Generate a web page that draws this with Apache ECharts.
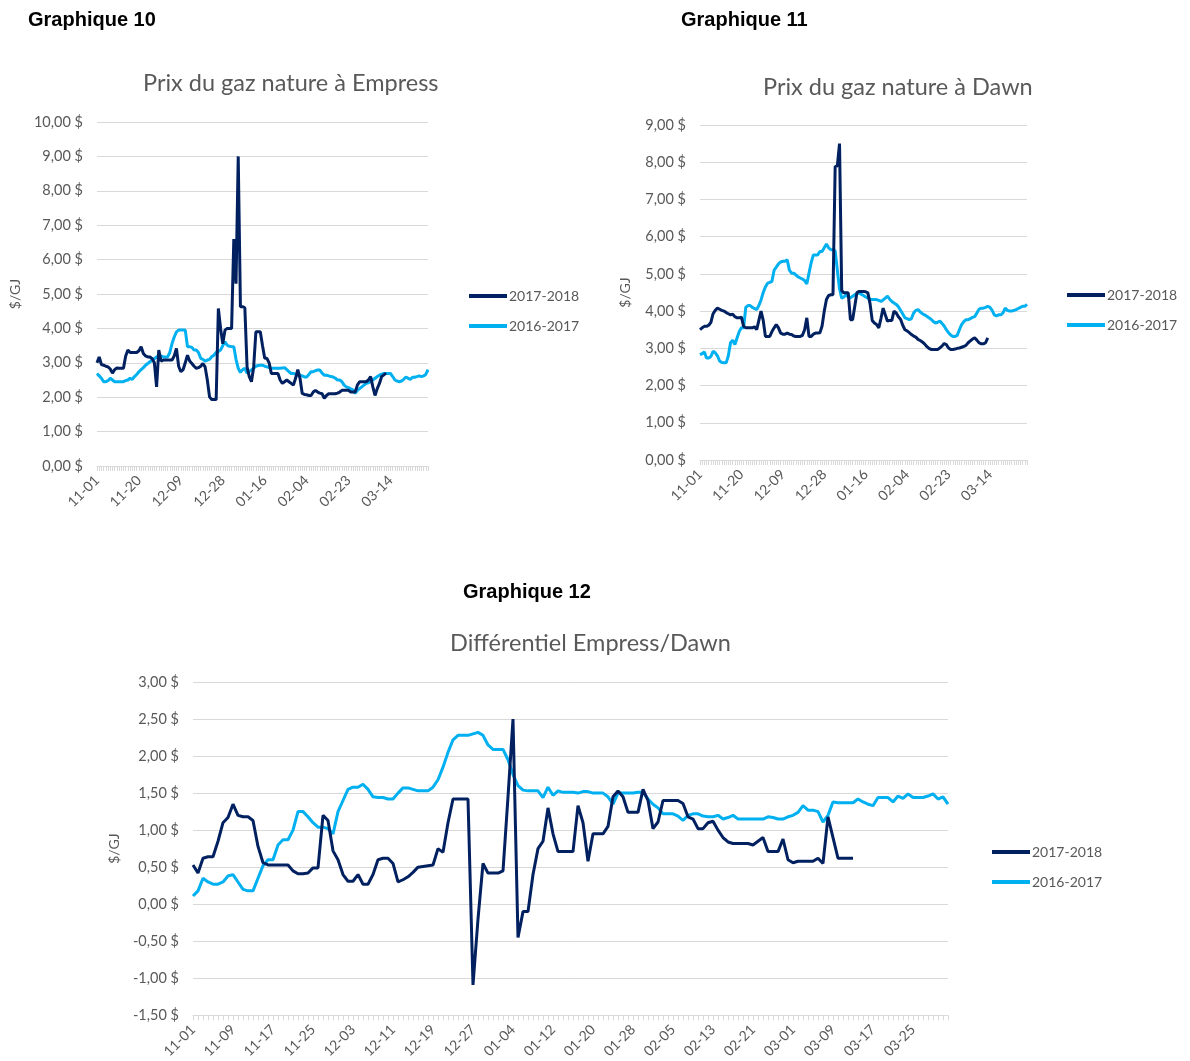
<!DOCTYPE html>
<html>
<head>
<meta charset="utf-8">
<script src="https://cdn.jsdelivr.net/npm/echarts@6/dist/echarts.min.js"></script>
<style>
  html, body { margin: 0; padding: 0; background: #fff; }
  #chart { width: 1190px; height: 1061px; }
</style>
</head>
<body>
<div id="chart"></div>
<script>
// jours affichés sur l'axe des x (MM-JJ), à partir du 1er novembre
function makeDays(n) {
  var out = [];
  var d = new Date(Date.UTC(2017, 10, 1));
  for (var i = 0; i < n; i++) {
    var m = d.getUTCMonth() + 1, j = d.getUTCDate();
    out.push((m < 10 ? '0' : '') + m + '-' + (j < 10 ? '0' : '') + j);
    d.setUTCDate(j + 1);
  }
  return out;
}
var days = makeDays(151);
var days12 = makeDays(152);

var seriesNames = ['2017-2018', '2016-2017'];

// Graphique 10 - Empress ($/GJ)
var empress1718 = [
  3.0, 3.17, 2.95, 2.93, 2.9, 2.88, 2.82, 2.7, 2.8, 2.85,
  2.84, 2.84, 2.84, 3.2, 3.37, 3.3, 3.3, 3.3, 3.3, 3.35,
  3.47, 3.27, 3.2, 3.17, 3.17, 3.12, 3.0, 2.3, 3.37, 3.05,
  3.08, 3.08, 3.08, 3.08, 3.08, 3.2, 3.42, 2.9, 2.74, 2.8,
  3.0, 3.22, 3.05, 2.98, 2.9, 2.84, 2.86, 2.9, 2.98, 2.88,
  2.5, 2.01, 1.93, 1.93, 1.93, 4.58, 4.0, 3.55, 3.95, 4.0,
  4.0, 4.0, 6.6, 5.3, 9.0, 4.63, 4.63, 4.6, 2.88, 2.6,
  2.45, 2.88, 3.9, 3.9, 3.9, 3.5, 3.13, 3.13, 3.0, 2.69,
  2.69, 2.69, 2.69, 2.5, 2.4, 2.45, 2.5, 2.45, 2.4, 2.35,
  2.55, 2.8, 2.55, 2.11, 2.08, 2.07, 2.05, 2.05, 2.15, 2.2,
  2.15, 2.12, 2.1, 1.97, 2.05, 2.1, 2.1, 2.1, 2.1, 2.12,
  2.15, 2.2, 2.2, 2.2, 2.2, 2.15, 2.15, 2.15, 2.35, 2.45,
  2.45, 2.45, 2.45, 2.5, 2.6, 2.3, 2.05, 2.25, 2.4, 2.6,
  2.65, 2.7
];
var empress1617 = [
  2.69, 2.62, 2.55, 2.45, 2.45, 2.48, 2.55, 2.5, 2.45, 2.45,
  2.45, 2.45, 2.45, 2.48, 2.5, 2.55, 2.52, 2.6, 2.66, 2.74,
  2.8, 2.86, 2.93, 2.98, 3.03, 3.08, 3.12, 3.17, 3.2, 3.2,
  3.17, 3.17, 3.17, 3.3, 3.56, 3.75, 3.9, 3.95, 3.95, 3.95,
  3.95, 3.47, 3.47, 3.45, 3.37, 3.37, 3.3, 3.13, 3.1, 3.05,
  3.08, 3.1, 3.18, 3.22, 3.3, 3.33, 3.37, 3.5, 3.61, 3.51,
  3.48, 3.47, 3.47, 3.1, 2.84, 2.72, 2.8, 2.84, 2.7, 2.75,
  2.79, 2.85, 2.9, 2.92, 2.93, 2.93, 2.9, 2.88, 2.86, 2.84,
  2.84, 2.84, 2.84, 2.84, 2.85, 2.86, 2.8, 2.74, 2.69, 2.69,
  2.67, 2.64, 2.64, 2.62, 2.59, 2.59, 2.66, 2.74, 2.74, 2.77,
  2.79, 2.79, 2.7, 2.64, 2.64, 2.62, 2.6, 2.59, 2.55, 2.5,
  2.5, 2.45, 2.35, 2.3, 2.28, 2.24, 2.21, 2.11, 2.2, 2.25,
  2.3, 2.35, 2.4, 2.42, 2.45, 2.5, 2.55, 2.6, 2.64, 2.67,
  2.69, 2.69, 2.69, 2.69, 2.6, 2.5, 2.47, 2.45, 2.47, 2.52,
  2.59, 2.55, 2.52, 2.58, 2.58, 2.6, 2.62, 2.6, 2.62, 2.66,
  2.8
];

// Graphique 11 - Dawn ($/GJ)
var dawn1718 = [
  3.5, 3.55, 3.59, 3.59, 3.62, 3.7, 3.93, 4.02, 4.08, 4.05,
  4.02, 4.0, 3.96, 3.93, 3.9, 3.92, 3.85, 3.82, 3.82, 3.84,
  3.59, 3.55, 3.55, 3.55, 3.55, 3.58, 3.5, 3.75, 4.0, 3.75,
  3.32, 3.32, 3.32, 3.45, 3.55, 3.64, 3.55, 3.41, 3.38, 3.38,
  3.41, 3.38, 3.37, 3.33, 3.32, 3.32, 3.32, 3.35, 3.5, 3.82,
  3.32, 3.32, 3.38, 3.41, 3.41, 3.42, 3.6, 4.0, 4.31, 4.42,
  4.44, 4.44, 7.88, 7.9, 8.5, 4.55, 4.49, 4.49, 4.49, 3.77,
  3.77, 4.13, 4.5, 4.53, 4.53, 4.53, 4.52, 4.49, 4.2, 3.75,
  3.68, 3.64, 3.55, 3.8, 4.08, 3.9, 3.73, 3.75, 3.75, 4.0,
  3.95, 3.85, 3.78, 3.62, 3.5, 3.47, 3.42, 3.37, 3.33, 3.3,
  3.24, 3.21, 3.17, 3.12, 3.05, 3.0, 2.97, 2.97, 2.97, 2.97,
  3.01, 3.06, 3.13, 3.1, 3.01, 2.97, 2.97, 2.98, 3.0, 3.01,
  3.03, 3.05, 3.08, 3.15, 3.2, 3.25, 3.28, 3.22, 3.15, 3.12,
  3.12, 3.15, 3.28
];
var dawn1617 = [
  2.83, 2.86, 2.9, 2.74, 2.74, 2.78, 2.92, 2.88, 2.8, 2.66,
  2.62, 2.61, 2.61, 2.8, 3.15, 3.22, 3.1, 3.28, 3.45, 3.55,
  3.55, 4.1, 4.15, 4.15, 4.1, 4.07, 4.04, 4.15, 4.3, 4.5,
  4.65, 4.75, 4.77, 4.8, 5.1, 5.18, 5.27, 5.32, 5.34, 5.34,
  5.38, 5.1, 5.02, 5.02, 4.97, 4.92, 4.89, 4.86, 4.82, 4.73,
  5.02, 5.3, 5.51, 5.51, 5.51, 5.6, 5.6, 5.7, 5.8, 5.7,
  5.65, 5.65, 5.62, 5.1, 4.6, 4.35, 4.38, 4.44, 4.38, 4.36,
  4.4, 4.44, 4.46, 4.49, 4.45, 4.42, 4.38, 4.35, 4.32, 4.31,
  4.31, 4.31, 4.29, 4.26, 4.3, 4.35, 4.4, 4.32, 4.26, 4.22,
  4.18, 4.12, 4.02, 3.92, 3.82, 3.8, 3.77, 3.8, 3.95, 4.02,
  4.04, 3.98, 3.93, 3.9, 3.86, 3.82, 3.78, 3.72, 3.68, 3.7,
  3.73, 3.67, 3.6, 3.5, 3.42, 3.36, 3.32, 3.32, 3.35, 3.5,
  3.64, 3.72, 3.77, 3.77, 3.8, 3.83, 3.85, 3.95, 4.05, 4.08,
  4.08, 4.1, 4.13, 4.1, 4.02, 3.9, 3.87, 3.9, 3.9, 3.95,
  4.08, 4.02, 4.0, 4.0, 4.02, 4.04, 4.07, 4.1, 4.13, 4.13,
  4.18
];

// Graphique 12 - différentiel Empress/Dawn ($/GJ)
var diff1718 = [
  0.53, 0.42, 0.62, 0.64, 0.64, 0.85, 1.1, 1.17, 1.35, 1.2,
  1.18, 1.18, 1.13, 0.78, 0.56, 0.53, 0.53, 0.53, 0.53, 0.53,
  0.45, 0.41, 0.41, 0.42, 0.49, 0.49, 1.2, 1.13, 0.72, 0.6,
  0.4, 0.31, 0.31, 0.4, 0.27, 0.27, 0.4, 0.6, 0.62, 0.62,
  0.55, 0.3, 0.33, 0.37, 0.43, 0.5, 0.51, 0.52, 0.53, 0.75,
  0.7, 1.1, 1.42, 1.42, 1.42, 1.42, -1.09, -0.2, 0.55, 0.42,
  0.42, 0.42, 0.45, 1.45, 2.5, -0.45, -0.1, -0.1, 0.4, 0.75,
  0.85, 1.3, 0.95, 0.71, 0.71, 0.71, 0.71, 1.33, 1.1, 0.58,
  0.95, 0.95, 0.95, 1.05, 1.45, 1.53, 1.45, 1.24, 1.24, 1.24,
  1.55, 1.4, 1.02, 1.11, 1.4, 1.4, 1.4, 1.4, 1.36, 1.18,
  1.15, 1.02, 1.02, 1.1, 1.12, 1.0, 0.9, 0.84, 0.82, 0.82,
  0.82, 0.82, 0.8, 0.85, 0.9, 0.71, 0.71, 0.71, 0.88, 0.6,
  0.56, 0.58, 0.58, 0.58, 0.58, 0.62, 0.55, 1.18, 0.9, 0.62,
  0.62, 0.62, 0.62
];
var diff1617 = [
  0.11, 0.18, 0.35, 0.3, 0.27, 0.27, 0.3, 0.38, 0.4, 0.3,
  0.2, 0.18, 0.18, 0.35, 0.52, 0.6, 0.6, 0.8, 0.87, 0.87,
  1.0, 1.25, 1.25, 1.18, 1.1, 1.04, 1.04, 1.02, 0.95, 1.25,
  1.4, 1.55, 1.58, 1.58, 1.62, 1.55, 1.45, 1.44, 1.44, 1.42,
  1.42, 1.5, 1.57, 1.57, 1.55, 1.53, 1.53, 1.53, 1.58, 1.68,
  1.85, 2.05, 2.22, 2.28, 2.28, 2.28, 2.3, 2.32, 2.28, 2.15,
  2.09, 2.09, 2.09, 1.95, 1.75, 1.6, 1.54, 1.53, 1.53, 1.53,
  1.44, 1.58, 1.47, 1.53, 1.51, 1.51, 1.51, 1.5, 1.52, 1.52,
  1.5, 1.5, 1.5, 1.45, 1.35, 1.5, 1.5, 1.5, 1.5, 1.51,
  1.51, 1.42, 1.35, 1.3, 1.22, 1.22, 1.22, 1.19, 1.13, 1.2,
  1.22, 1.22, 1.19, 1.18, 1.18, 1.2, 1.15, 1.17, 1.2, 1.15,
  1.15, 1.15, 1.15, 1.15, 1.15, 1.18, 1.17, 1.15, 1.15, 1.18,
  1.2, 1.24, 1.33, 1.27, 1.27, 1.25, 1.11, 1.2, 1.38, 1.37,
  1.37, 1.37, 1.37, 1.42, 1.38, 1.35, 1.33, 1.44, 1.44, 1.44,
  1.38, 1.46, 1.43, 1.49, 1.44, 1.44, 1.44, 1.46, 1.49, 1.42,
  1.45, 1.35
];

var DARK = '#002060';
var LIGHT = '#00b0f0';
var GREY = '#595959';
var GRID_LINE = '#d9d9d9';
var FONT = 'Lato';

function money(v) {
  return v.toFixed(2).replace('.', ',') + ' $';
}

function xAxisFor(idx, data, every) {
  return {
    type: 'category', gridIndex: idx, data: data, boundaryGap: false,
    axisLine: { onZero: false, lineStyle: { color: GRID_LINE, width: 1 } },
    axisTick: { show: true, interval: 0, length: 5, lineStyle: { color: GRID_LINE } },
    axisLabel: { interval: every - 1, rotate: 45, color: GREY, fontSize: 14, fontFamily: FONT, margin: 12 },
    splitLine: { show: false }
  };
}

function yAxisFor(idx, min, max, step, gap) {
  return {
    type: 'value', gridIndex: idx, min: min, max: max, interval: step,
    name: '$/GJ', nameLocation: 'middle', nameRotate: 90, nameGap: gap,
    nameTextStyle: { color: GREY, fontSize: 14, fontFamily: FONT },
    axisLine: { show: false }, axisTick: { show: false },
    axisLabel: { color: GREY, fontSize: 14.5, fontFamily: FONT, margin: 14, formatter: money },
    splitLine: { lineStyle: { color: GRID_LINE, width: 1 } }
  };
}

function lineSeries(name, idx, data, color) {
  return {
    name: name, type: 'line', xAxisIndex: idx, yAxisIndex: idx, data: data,
    showSymbol: false, symbol: 'none', animation: false,
    lineStyle: { color: color, width: 3 }, itemStyle: { color: color }
  };
}

function legendAt(left, top) {
  return {
    left: left, top: top, orient: 'vertical', icon: 'rect',
    itemWidth: 38, itemHeight: 4, itemGap: 16, itemStyle: { borderWidth: 0 },
    textStyle: { color: GREY, fontSize: 14, fontFamily: FONT, padding: [0, 0, 0, -3] },
    data: seriesNames
  };
}

var bold = { fontFamily: 'Liberation Sans', fontWeight: 'bold', fontSize: 20, color: '#000' };
var sub = { fontFamily: FONT, fontWeight: 'normal', fontSize: 23.5, color: GREY };

var myChart = echarts.init(document.getElementById('chart'));
myChart.setOption({
  backgroundColor: '#fff',
  animation: false,
  title: [
    { text: 'Graphique 10', left: 28, top: 10, padding: 0, textStyle: bold },
    { text: 'Graphique 11', left: 681, top: 10, padding: 0, textStyle: bold },
    { text: 'Graphique 12', left: 463, top: 582, padding: 0, textStyle: bold },
    { text: 'Prix du gaz nature à Empress', left: 143, top: 71, padding: 0, textStyle: sub },
    { text: 'Prix du gaz nature à Dawn', left: 763, top: 75, padding: 0, textStyle: sub },
    { text: 'Différentiel Empress/Dawn', left: 450, top: 631, padding: 0, textStyle: sub }
  ],
  legend: [
    legendAt(464, 284),
    legendAt(1062, 283),
    legendAt(987, 840)
  ],
  grid: [
    { left: 97, top: 122, width: 331, height: 344 },
    { left: 700, top: 125, width: 327, height: 335 },
    { left: 193, top: 682, width: 755, height: 335 }
  ],
  xAxis: [
    xAxisFor(0, days, 19),
    xAxisFor(1, days, 19),
    xAxisFor(2, days12, 8)
  ],
  yAxis: [
    yAxisFor(0, 0, 10, 1, 75),
    yAxisFor(1, 0, 9, 1, 68),
    yAxisFor(2, -1.5, 3, 0.5, 72)
  ],
  series: [
    lineSeries(seriesNames[1], 0, empress1617, LIGHT),
    lineSeries(seriesNames[0], 0, empress1718, DARK),
    lineSeries(seriesNames[1], 1, dawn1617, LIGHT),
    lineSeries(seriesNames[0], 1, dawn1718, DARK),
    lineSeries(seriesNames[1], 2, diff1617, LIGHT),
    lineSeries(seriesNames[0], 2, diff1718, DARK)
  ]
});
</script>
</body>
</html>
